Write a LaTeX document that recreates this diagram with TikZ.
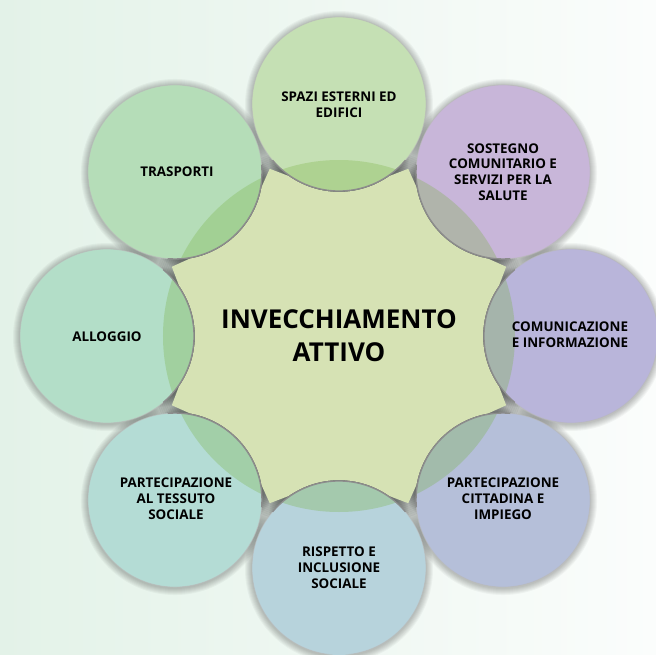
\documentclass[tikz,border=0pt]{standalone}
\usepackage{fontspec}
\setmainfont{Open Sans}
\definecolor{bgL}{HTML}{E3F2E8}
\definecolor{bgR}{HTML}{FBFDFC}
\definecolor{cSpazi}{HTML}{C5E0B4}
\definecolor{cTrasp}{HTML}{B5DDB8}
\definecolor{cAllog}{HTML}{B3DEC8}
\definecolor{cTess}{HTML}{B4DCD5}
\definecolor{cRisp}{HTML}{B7D3DC}
\definecolor{cCitt}{HTML}{B5BFD9}
\definecolor{cComu}{HTML}{B9B5DA}
\definecolor{cSost}{HTML}{C8B6D9}
\definecolor{cStar}{HTML}{D6E2B4}
\definecolor{cTint}{HTML}{79B241}
\definecolor{cLine}{HTML}{8C8C8C}
\begin{document}
\begin{tikzpicture}[x=1pt,y=1pt,
  lbl/.style={font=\bfseries\fontsize{13.4}{15.8}\selectfont, align=center, text=black, inner sep=0pt},
  ttl/.style={font=\bfseries\fontsize{26}{33}\selectfont, align=center, text=black, inner sep=0pt},
  ring/.style={draw=cLine, line width=1.3pt}]
\def\R{232}
\def\r{87}
\path[use as bounding box] (-339,-318) rectangle (317,336);
\shade[left color=bgL, right color=bgR] (-339,-318) rectangle (317,336);
% soft shadows of the outer circles
\foreach \a in {0,45,...,315}{
  \foreach \d in {1,...,7}{
    \fill[black, opacity=0.035] (\a:\R) ++(0,-1) circle[radius=\r+\d];
  }
}
% gray in the gaps near the centre
\foreach \d in {0,...,9}{
  \fill[black, opacity=0.05] (0,0) circle[radius=176+2*\d];
}
% central star
\fill[cStar] (72.4:168)
  \foreach \k [evaluate=\k as \p using 90+45*\k] in {0,...,7}{
    arc[start angle=\p+215.2, end angle=\p+144.8, radius=88]
    -- (\p+22.5:181) -- (\p+27.4:168)
  } -- cycle;
% outer circles
\foreach \a/\c in {90/cSpazi,135/cTrasp,180/cAllog,225/cTess,270/cRisp,315/cCitt,0/cComu,45/cSost}{
  \fill[\c] (\a:\R) circle[radius=\r];
}
% green tint of the large circle seen through the outer circles
\begin{scope}
  \clip \foreach \a in {0,45,...,315}{ (\a:\R) circle[radius=\r] };
  \fill[cTint, opacity=0.3] (0,0) circle[radius=176];
\end{scope}
% outlines
\begin{scope}
  \clip (0,0) circle[radius=188];
  \foreach \a in {0,45,...,315}{ \draw[ring] (\a:\R) circle[radius=\r]; }
\end{scope}
\begin{scope}[even odd rule]
  \clip (-339,-318) rectangle (317,336) (0,0) circle[radius=188];
  \foreach \a in {0,45,...,315}{ \draw[draw=black!28, line width=0.8pt, opacity=0.6] (\a:\R) circle[radius=\r]; }
\end{scope}
% texts
\node[ttl] (center) at (0,0) {INVECCHIAMENTO\\ATTIVO};
\node[lbl] (spazi) at (0,231) {SPAZI ESTERNI ED\\EDIFICI};
\node[lbl] (sost) at (164,164) {SOSTEGNO\\COMUNITARIO E\\SERVIZI PER LA\\SALUTE};
\node[lbl] (trasp) at (-162,164) {TRASPORTI};
\node[lbl] (allog) at (-232,-1) {ALLOGGIO};
\node[lbl] (comu) at (231,1) {COMUNICAZIONE\\E INFORMAZIONE};
\node[lbl] (citt) at (164,-163) {PARTECIPAZIONE\\CITTADINA E\\IMPIEGO};
\node[lbl] (risp) at (0,-232) {RISPETTO E\\INCLUSIONE\\SOCIALE};
\node[lbl] (tess) at (-163,-163) {PARTECIPAZIONE\\AL TESSUTO\\SOCIALE};
\end{tikzpicture}
\end{document}
